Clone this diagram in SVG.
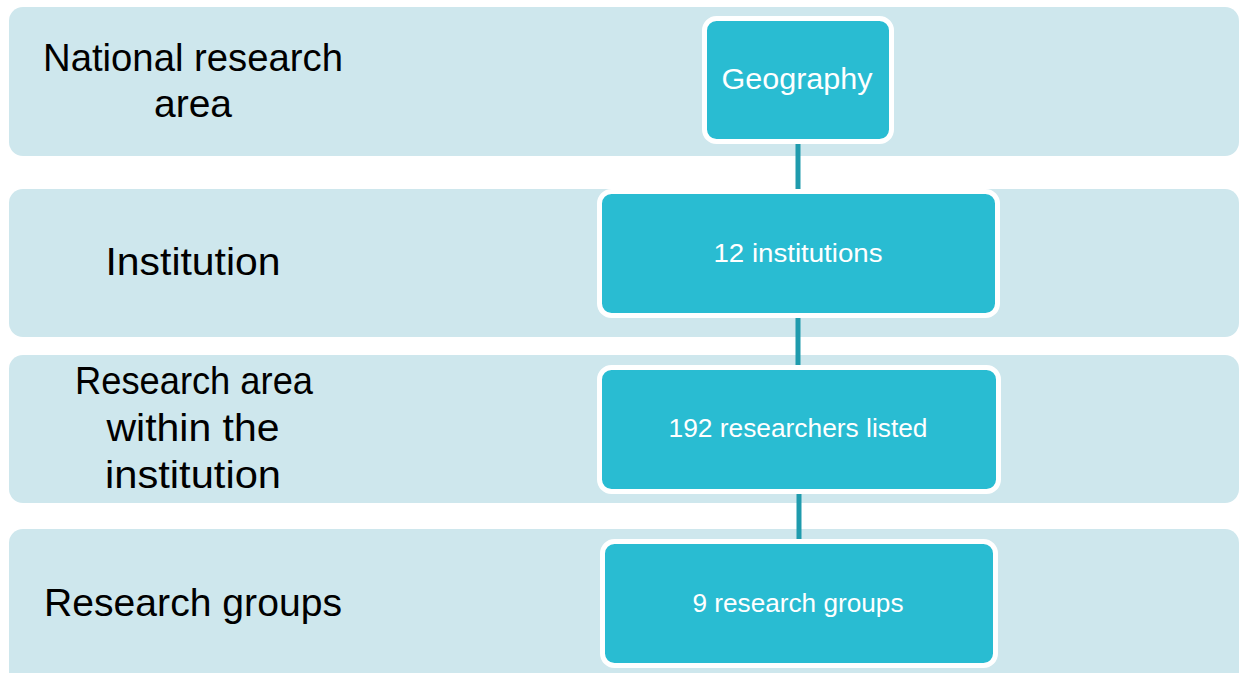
<svg xmlns="http://www.w3.org/2000/svg" width="1239" height="673" viewBox="0 0 1239 673">
<style>
.band{fill:#CEE7ED}
.lbl{font-family:"Liberation Sans",Arial,sans-serif;font-size:39px;fill:#000;text-anchor:middle}
.node{fill:#29BCD2;stroke:#FFFFFF;stroke-width:5}
.ntxt{font-family:"Liberation Sans",Arial,sans-serif;font-size:26px;fill:#FFFFFF;text-anchor:middle}
.conn{stroke:#1F9BAD;stroke-width:5;fill:none}
</style>
<rect width="1239" height="673" fill="#FFFFFF"/>
<g id="band-national">
<rect class="band" x="9" y="7" width="1230" height="149" rx="14"/>
<text class="lbl" x="193" y="71" textLength="300" lengthAdjust="spacingAndGlyphs">National research</text>
<text class="lbl" x="193" y="117">area</text>
</g>
<g id="band-institution">
<rect class="band" x="9" y="189" width="1230" height="148" rx="14"/>
<text class="lbl" x="193" y="275" textLength="175" lengthAdjust="spacingAndGlyphs">Institution</text>
</g>
<g id="band-area">
<rect class="band" x="9" y="355" width="1230" height="148" rx="14"/>
<text class="lbl" x="194" y="394" textLength="238" lengthAdjust="spacingAndGlyphs">Research area</text>
<text class="lbl" x="193" y="441" textLength="173" lengthAdjust="spacingAndGlyphs">within the</text>
<text class="lbl" x="193" y="488" textLength="176" lengthAdjust="spacingAndGlyphs">institution</text>
</g>
<g id="band-groups">
<rect class="band" x="9" y="529" width="1230" height="160" rx="14"/>
<text class="lbl" x="193" y="616" textLength="298" lengthAdjust="spacingAndGlyphs">Research groups</text>
</g>
<g id="connectors">
<line class="conn" x1="798" y1="144" x2="798" y2="190"/>
<line class="conn" x1="798" y1="317" x2="798" y2="366"/>
<line class="conn" x1="799" y1="493" x2="799" y2="540"/>
</g>
<g id="node-geography">
<rect class="node" x="704.5" y="18.5" width="187" height="123" rx="12"/>
<text class="ntxt" x="797" y="89" style="font-size:30px" textLength="151" lengthAdjust="spacingAndGlyphs">Geography</text>
</g>
<g id="node-institutions">
<rect class="node" x="599.5" y="191.5" width="398" height="124" rx="12"/>
<text class="ntxt" x="798" y="262" textLength="169" lengthAdjust="spacingAndGlyphs">12 institutions</text>
</g>
<g id="node-researchers">
<rect class="node" x="599.5" y="367.5" width="399" height="124" rx="12"/>
<text class="ntxt" x="798" y="437" textLength="259" lengthAdjust="spacingAndGlyphs">192 researchers listed</text>
</g>
<g id="node-groups">
<rect class="node" x="602.5" y="541.5" width="393" height="124" rx="12"/>
<text class="ntxt" x="798" y="612" textLength="211" lengthAdjust="spacingAndGlyphs">9 research groups</text>
</g>
</svg>
